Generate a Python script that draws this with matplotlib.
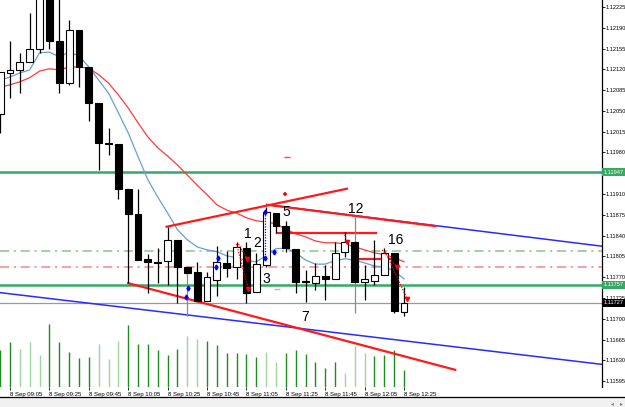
import matplotlib
matplotlib.use("Agg")
import matplotlib.pyplot as plt
from matplotlib.patches import Rectangle
from matplotlib.lines import Line2D

# EURUSD M5 - 8 Sep, 09:00 .. 12:25 (bar index 0..41)
opens = [1.12045, 1.12114, 1.12119, 1.12133, 1.12154, 1.12240, 1.12168, 1.12097, 1.12186, 1.12124,
         1.12063, 1.11996, 1.11994, 1.11919, 1.11877, 1.11801, 1.11796, 1.11797, 1.11833, 1.11787,
         1.11779, 1.11730, 1.11765, 1.11794, 1.11787, 1.11819, 1.11745, 1.11791, 1.11878, 1.11856,
         1.11818, 1.11764, 1.11760, 1.11772, 1.11767, 1.11813, 1.11829, 1.11762, 1.11764, 1.11774,
         1.11811, 1.11712]
highs = [1.12116, 1.12168, 1.12148, 1.12215, 1.12255, 1.12260, 1.12240, 1.12203, 1.12186, 1.12124,
         1.12063, 1.12021, 1.11994, 1.11919, 1.11919, 1.11809, 1.11819, 1.11855, 1.11833, 1.11787,
         1.11796, 1.11779, 1.11823, 1.11814, 1.11829, 1.11829, 1.11811, 1.11888, 1.11878, 1.11865,
         1.11818, 1.11782, 1.11794, 1.11791, 1.11829, 1.11846, 1.11872, 1.11791, 1.11833, 1.11819,
         1.11811, 1.11754]
lows = [1.12013, 1.12072, 1.12080, 1.12133, 1.12148, 1.12154, 1.12080, 1.12094, 1.12090, 1.12033,
        1.11951, 1.11976, 1.11902, 1.11760, 1.11799, 1.11744, 1.11760, 1.11757, 1.11727, 1.11705,
        1.11730, 1.11730, 1.11739, 1.11771, 1.11767, 1.11727, 1.11745, 1.11787, 1.11845, 1.11813,
        1.11744, 1.11728, 1.11749, 1.11732, 1.11767, 1.11804, 1.11710, 1.11732, 1.11757, 1.11774,
        1.11710, 1.11705]
closes = [1.12116, 1.12119, 1.12133, 1.12154, 1.12245, 1.12168, 1.12097, 1.12186, 1.12124, 1.12063,
          1.11996, 1.11994, 1.11919, 1.11877, 1.11799, 1.11796, 1.11794, 1.11833, 1.11787, 1.11777,
          1.11730, 1.11771, 1.11796, 1.11786, 1.11821, 1.11744, 1.11792, 1.11880, 1.11856, 1.11819,
          1.11762, 1.11762, 1.11772, 1.11767, 1.11811, 1.11829, 1.11762, 1.11767, 1.11774, 1.11811,
          1.11713, 1.11727]
volumes = [367, 447, 380, 450, 323, 627, 447, 350, 287, 300, 433, 280, 463, 620, 427, 427, 367, 323,
           380, 510, 477, 460, 423, 340, 340, 333, 300, 350, 250, 340, 370, 333, 253, 190, 250, 143,
           410, 343, 313, 320, 367, 170]
vol_light = [2, 3, 4, 10, 11, 12, 19, 20, 27, 28, 35, 36, 37]

ma_fast = [1.12102, 1.12107, 1.12114, 1.12119, 1.12148, 1.12149, 1.12141, 1.12149, 1.12143, 1.12124,
           1.12102, 1.12080, 1.12047, 1.12013, 1.11973, 1.11934, 1.11905, 1.11878, 1.11850, 1.11833,
           1.11821, 1.11816, 1.11813, 1.11806, 1.11803, 1.11798, 1.11796, 1.11806, 1.11818, 1.11819,
           1.11811, 1.11799, 1.11792, 1.11792, 1.11798, 1.11801, 1.11799, 1.11794, 1.11789, 1.11787,
           1.11781, 1.11767]
ma_slow = [1.12090, 1.12094, 1.12099, 1.12106, 1.12117, 1.12121, 1.12119, 1.12124, 1.12124, 1.12122,
           1.12111, 1.12097, 1.12077, 1.12055, 1.12030, 1.12006, 1.11988, 1.11974, 1.11959, 1.11942,
           1.11925, 1.11909, 1.11892, 1.11883, 1.11878, 1.11870, 1.11865, 1.11863, 1.11860, 1.11851,
           1.11843, 1.11838, 1.11831, 1.11828, 1.11828, 1.11826, 1.11821, 1.11816, 1.11811, 1.11808,
           1.11803, 1.11796]

tick_bars = [1, 5, 9, 13, 17, 21, 25, 29, 33, 37, 41]
tick_labels = ["8 Sep 09:05", "8 Sep 09:25", "8 Sep 09:45", "8 Sep 10:05", "8 Sep 10:25", "8 Sep 10:45",
               "8 Sep 11:05", "8 Sep 11:25", "8 Sep 11:45", "8 Sep 12:05", "8 Sep 12:25"]
price_ticks = [1.11595, 1.11630, 1.11665, 1.11700, 1.11735, 1.11770, 1.11805, 1.11840, 1.11875,
               1.11910, 1.11945, 1.11980, 1.12015, 1.12050, 1.12085, 1.12120, 1.12155, 1.12190, 1.12225]

# yatay seviyeler
green_levels = [1.11947, 1.11757]
bid_price = 1.11727
green_dashdot = 1.11814
red_dashdot = 1.11787

# trend cizgileri: (bar1, fiyat1, bar2, fiyat2)
blue_lines = [(0, 1.11744, 61.2, 1.11623), (27.1, 1.11892, 61.2, 1.11822)]
red_lines = [(16.9, 1.11855, 35.2, 1.11919), (27.1, 1.11892, 44.2, 1.11856), (13.0, 1.11760, 46.2, 1.11614)]
red_hlines = [(28.1, 38.2, 1.11845), (36.0, 40.4, 1.11801)]

# dalga etiketleri
wave_labels = ["1", "2", "3", "5", "12", "16", "7"]
wave_x = [25.1, 26.1, 27.0, 29.1, 36.1, 40.2, 31.0]
wave_y = [1.11843, 1.11828, 1.11767, 1.11880, 1.11885, 1.11833, 1.11703]

# isaretler (noktali oklar)
red_dotted = [(24.0, 1.11826, 25.2, 1.11750), (24.2, 1.11826, 25.1, 1.11800), (34.9, 1.11846, 35.2, 1.11829),
              (38.8, 1.11816, 40.3, 1.11787), (39.1, 1.11813, 41.3, 1.11734)]
blue_dotted = [(26.9, 1.11880, 26.9, 1.11800)]
blue_marks_x = [26.9, 27.8, 22.1, 21.9, 19.1, 18.9, 26.9]
blue_marks_y = [1.11803, 1.11813, 1.11803, 1.11787, 1.11752, 1.11737, 1.11880]

n = len(opens)
bars = list(range(n))

fig = plt.figure(figsize=(6.25, 4.07), dpi=100)
ax = fig.add_axes([0, 1 - 387 / 407, 602 / 625, 387 / 407])
axv = ax.twinx()
axv.set_zorder(ax.get_zorder() - 1)
ax.patch.set_visible(False)
axv.patch.set_facecolor("white")

# hacim
vcol = ["#9fd49f" if i in vol_light else "#1e8c1e" for i in bars]
axv.vlines(bars, 0, volumes, colors=vcol, lw=1.0)
axv.set_ylim(0, 3870)
axv.set_yticks([])
for s in axv.spines.values():
    s.set_visible(False)

# hareketli ortalamalar
ax.plot(bars, ma_fast, color="#6a9fd0", lw=0.9, zorder=2)
ax.plot(bars, ma_slow, color="#ff3b3b", lw=0.9, zorder=2)

# yatay cizgiler
for lv in green_levels:
    ax.axhline(lv, color="#37a864", lw=1.8, zorder=1)
ax.axhline(bid_price, color="#9a9a9a", lw=0.9, zorder=1)
ax.axhline(green_dashdot, color="#8cc48c", lw=1.1, ls=(0, (6, 3, 1.5, 3)), zorder=1)
ax.axhline(red_dashdot, color="#f08a8a", lw=1.1, ls=(0, (6, 3, 1.5, 3)), zorder=1)

for x1, y1, x2, y2 in blue_lines:
    ax.plot([x1, x2], [y1, y2], color="#2a2aff", lw=1.1, zorder=2)
for x1, y1, x2, y2 in red_lines:
    ax.plot([x1, x2], [y1, y2], color="#ff1a1a", lw=1.6, zorder=2)
for x1, x2, yv in red_hlines:
    ax.plot([x1, x2], [yv, yv], color="#ff1a1a", lw=1.6, zorder=2)

# mumlar
for i in bars:
    o, h, l, c = opens[i], highs[i], lows[i], closes[i]
    wc = "#888888" if i in (19, 36) else "black"
    ax.vlines(i, l, h, colors=wc, lw=0.9, zorder=3)
    bottom = min(o, c)
    height = max(abs(c - o), 0.000012)
    fc = "white" if c > o else "black"
    ax.bar(i, height, bottom=bottom, width=0.7, color=fc, edgecolor="black", lw=0.8, zorder=4)

for x1, y1, x2, y2 in red_dotted:
    ax.plot([x1, x2], [y1, y2], color="red", lw=0.9, ls=(0, (1, 1.2)), zorder=5)
    ax.plot(x2, y2, marker="v", color="red", ms=3, zorder=5)
for x1, y1, x2, y2 in blue_dotted:
    ax.plot([x1, x2], [y1, y2], color="blue", lw=0.9, ls=(0, (1, 1.2)), zorder=5)
ax.plot(blue_marks_x, blue_marks_y, ls="none", marker="d", color="blue", ms=2.5, zorder=5)
ax.plot([28.9], [1.11910], ls="none", marker="+", color="red", ms=3.5, mew=1.2, zorder=5)
ax.plot([29.1], [1.11973], ls="none", marker="_", color="#e05050", ms=4, mew=1, zorder=5)
ax.plot([28.1], [1.11750], ls="none", marker="_", color="#f4a0a0", ms=4, mew=1, zorder=5)

for t, x, y in zip(wave_labels, wave_x, wave_y):
    ax.text(x, y, t, fontsize=10, family="Liberation Sans", ha="center", va="center", zorder=6)

ax.set_xlim(-0.015, 61.1)
ax.set_ylim(1.115851, 1.122368)

# eksenler
for side in ["left", "top", "bottom"]:
    ax.spines[side].set_visible(False)
ax.spines["right"].set_linewidth(0.9)
ax.yaxis.tick_right()
ax.set_yticks(price_ticks)
ax.set_yticklabels(["%.5f" % p for p in price_ticks])
ax.tick_params(axis="y", direction="out", length=2.0, width=0.6, pad=0.8, labelsize=4.1)
ax.set_xticks(tick_bars)
ax.set_xticklabels(tick_labels, ha="left")
ax.tick_params(axis="x", direction="out", length=2.5, width=0.6, pad=1.2, labelsize=4.3)
for lab in ax.get_xticklabels() + ax.get_yticklabels():
    lab.set_family("Liberation Sans")

# fiyat kutulari
boxes = [(1.11947, "1.11947", "#3aa865"), (1.11757, "1.11757", "#3aa865"), (bid_price, "1.11727", "black")]
for p, t, c in boxes:
    ax.text(1.003, p, t, transform=ax.get_yaxis_transform(), fontsize=4.1, family="Liberation Sans",
            color="white", va="center", ha="left", clip_on=False, zorder=10,
            bbox=dict(boxstyle="square,pad=0.25", fc=c, ec="none"))

# alt kaydirma cubugu
fig.patches.append(Rectangle((0, 0), 1, 9.5 / 407, transform=fig.transFigure, fc="#f0f0f0", ec="none"))
fig.lines.append(Line2D([0, 1], [10 / 407, 10 / 407], transform=fig.transFigure, color="black", lw=0.9))
fig.text(612 / 625, 3.5 / 407, "\u25c2", fontsize=4, color="#777777", ha="center", va="center")
fig.text(621 / 625, 3.5 / 407, "\u25b8", fontsize=4, color="#777777", ha="center", va="center")

fig.savefig("out.png", dpi=100)
